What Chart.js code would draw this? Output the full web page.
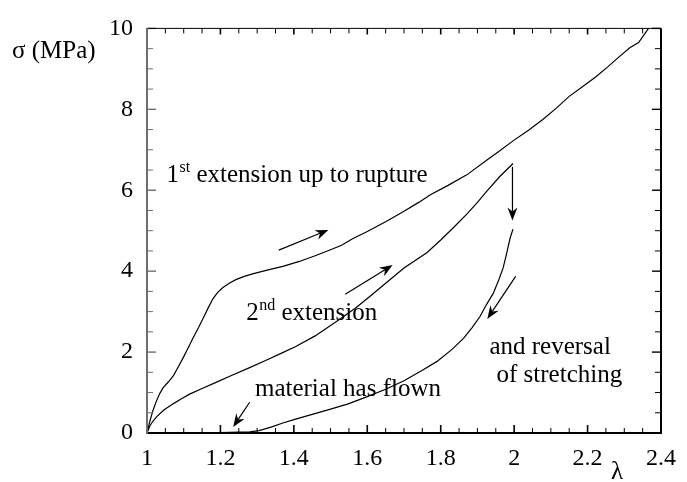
<!DOCTYPE html>
<html><head><meta charset="utf-8">
<script src="https://cdn.jsdelivr.net/npm/chart.js@4.4.0/dist/chart.umd.min.js"></script>
<style>html,body{margin:0;padding:0;background:#fff;}canvas{display:block;}</style>
</head><body>
<canvas id="c" width="687" height="482"></canvas>
<script>
// ---- axis ticks ----
const xTickValues = [1, 1.2, 1.4, 1.6, 1.8, 2, 2.2, 2.4];
const xTickLabels = ["1", "1.2", "1.4", "1.6", "1.8", "2", "2.2", "2.4"];
const yTickValues = [0, 2, 4, 6, 8, 10];
const yTickLabels = ["0", "2", "4", "6", "8", "10"];
const xMinorStep = 0.05;
const yMinorStep = 0.5;

// ---- series: 1st extension up to rupture ----
const firstLambda = [1.000,1.008,1.016,1.026,1.035,1.044,1.058,1.072,1.085,1.098,1.112,1.125,1.140,1.152,1.166,1.179,1.192,1.206,1.224,1.242,1.265,1.290,1.330,1.370,1.415,1.458,1.500,1.530,1.560,1.600,1.650,1.700,1.740,1.772,1.820,1.871,1.925,1.960,1.997,2.040,2.078,2.115,2.150,2.185,2.222,2.255,2.285,2.315,2.339,2.366];
const firstSigma  = [0.00,0.30,0.55,0.80,0.98,1.12,1.26,1.42,1.63,1.85,2.10,2.34,2.60,2.82,3.08,3.31,3.47,3.59,3.70,3.79,3.87,3.94,4.03,4.12,4.24,4.38,4.53,4.64,4.80,4.98,5.22,5.48,5.70,5.89,6.12,6.38,6.74,6.97,7.22,7.49,7.75,8.03,8.32,8.55,8.80,9.05,9.29,9.52,9.65,10.00];

// ---- series: 2nd extension ----
const secondLambda = [1.000,1.008,1.016,1.026,1.045,1.071,1.095,1.116,1.150,1.188,1.230,1.278,1.320,1.368,1.404,1.458,1.520,1.570,1.610,1.650,1.700,1.763,1.800,1.835,1.871,1.900,1.925,1.961,1.997];
const secondSigma  = [0.00,0.18,0.29,0.40,0.56,0.72,0.85,0.96,1.10,1.25,1.42,1.61,1.78,1.98,2.13,2.40,2.78,3.10,3.40,3.70,4.08,4.46,4.77,5.08,5.41,5.70,5.97,6.34,6.66];

// ---- series: reversal of stretching ----
const reverseLambda = [1.170,1.200,1.250,1.280,1.305,1.340,1.368,1.400,1.450,1.500,1.548,1.600,1.650,1.700,1.750,1.790,1.830,1.862,1.885,1.907,1.925,1.943,1.958,1.970,1.978,1.984,1.990,1.997];
const reverseSigma  = [0.00,0.01,0.02,0.03,0.06,0.15,0.24,0.33,0.46,0.59,0.72,0.90,1.08,1.29,1.55,1.77,2.06,2.34,2.60,2.88,3.18,3.45,3.78,4.08,4.38,4.62,4.85,5.04];

// ---- annotations (data coordinates) ----
const arrowTails = [[1.359,4.52],[1.540,3.43],[1.9954,6.58],[2.004,3.87],[1.2797,0.76]];
const arrowTips  = [[1.494,5.02],[1.669,4.15],[1.9954,5.25],[1.927,2.82],[1.2347,0.15]];
const noteTexts  = [
  {main:"1", sup:"st", rest:" extension up to rupture", x:1.053, y:6.20},
  {main:"2", sup:"nd", rest:" extension", x:1.270, y:2.79},
  {main:"material has flown", sup:"", rest:"", x:1.294, y:0.92},
  {main:"and reversal", sup:"", rest:"", x:1.9326, y:1.95},
  {main:"of stretching", sup:"", rest:"", x:1.952, y:1.27}
];
const yAxisTitle = "σ (MPa)";
const xAxisTitle = "λ";

const FONT = '"Liberation Serif", "Times New Roman", serif';
function toPts(xs, ys){ return xs.map((x,i)=>({x:x, y:ys[i]})); }

const lineStyle = {borderColor:'#000', borderWidth:1.2, pointRadius:0, fill:false, tension:0};

const decor = {
  id:'decor',
  afterDraw(chart){
    const ctx = chart.ctx, xs = chart.scales.x, ys = chart.scales.y, a = chart.chartArea;
    ctx.save();
    // inward ticks
    const nX = Math.round((xs.max - xs.min)/xMinorStep);
    for(let i=0;i<=nX;i++){
      const v = xs.min + i*xMinorStep;
      const px = xs.getPixelForValue(v);
      const major = (i % 4 === 0);
      const len = major ? 8 : 5;
      ctx.strokeStyle = '#000';
      ctx.lineWidth = major ? 1.6 : 1;
      ctx.beginPath();
      ctx.moveTo(px, a.bottom); ctx.lineTo(px, a.bottom - len);
      ctx.moveTo(px, a.top); ctx.lineTo(px, a.top + (major?6:5));
      ctx.stroke();
    }
    const nY = Math.round((ys.max - ys.min)/yMinorStep);
    for(let i=0;i<=nY;i++){
      const v = ys.min + i*yMinorStep;
      const py = ys.getPixelForValue(v);
      const major = (i % 4 === 0);
      const len = major ? 9 : 6;
      ctx.lineWidth = major ? 1.4 : 1;
      ctx.strokeStyle = '#6e6e6e';
      ctx.beginPath(); ctx.moveTo(a.left, py); ctx.lineTo(a.left + len, py); ctx.stroke();
      ctx.strokeStyle = '#000';
      ctx.beginPath(); ctx.moveTo(a.right, py); ctx.lineTo(a.right - len, py); ctx.stroke();
    }
    // frame
    ctx.strokeStyle = '#000';
    ctx.lineWidth = 1;
    ctx.beginPath(); ctx.moveTo(a.left, a.top); ctx.lineTo(a.right, a.top); ctx.stroke();
    ctx.lineWidth = 2;
    ctx.beginPath(); ctx.moveTo(a.right, a.top); ctx.lineTo(a.right, a.bottom); ctx.stroke();
    ctx.beginPath(); ctx.moveTo(a.left, a.bottom); ctx.lineTo(a.right+1, a.bottom); ctx.stroke();
    ctx.strokeStyle = '#6e6e6e';
    ctx.beginPath(); ctx.moveTo(a.left, a.top-0.5); ctx.lineTo(a.left, a.bottom+1); ctx.stroke();

    // arrows
    ctx.strokeStyle = '#000'; ctx.fillStyle = '#000'; ctx.lineWidth = 1.2;
    arrowTails.forEach((t,i)=>{
      const x0 = xs.getPixelForValue(t[0]), y0 = ys.getPixelForValue(t[1]);
      const x1 = xs.getPixelForValue(arrowTips[i][0]), y1 = ys.getPixelForValue(arrowTips[i][1]);
      const ang = Math.atan2(y1-y0, x1-x0);
      const L = 13, W = 5, notch = 9;
      const bx = x1 - L*Math.cos(ang), by = y1 - L*Math.sin(ang);
      const nx = x1 - notch*Math.cos(ang), ny = y1 - notch*Math.sin(ang);
      ctx.beginPath(); ctx.moveTo(x0,y0); ctx.lineTo(nx,ny); ctx.stroke();
      ctx.beginPath();
      ctx.moveTo(x1,y1);
      ctx.lineTo(bx - W*Math.sin(ang), by + W*Math.cos(ang));
      ctx.lineTo(nx, ny);
      ctx.lineTo(bx + W*Math.sin(ang), by - W*Math.cos(ang));
      ctx.closePath(); ctx.fill();
    });

    // notes
    ctx.fillStyle = '#000';
    ctx.textBaseline = 'alphabetic'; ctx.textAlign = 'left';
    noteTexts.forEach(n=>{
      let px = xs.getPixelForValue(n.x), py = ys.getPixelForValue(n.y);
      ctx.font = '25px ' + FONT;
      ctx.fillText(n.main, px, py);
      px += ctx.measureText(n.main).width;
      if(n.sup){
        ctx.font = '16px ' + FONT;
        ctx.fillText(n.sup, px + 0.5, py - 10);
        px += ctx.measureText(n.sup).width + 0.5;
      }
      if(n.rest){
        ctx.font = '25px ' + FONT;
        ctx.fillText(n.rest, px, py);
      }
    });
    // axis titles
    ctx.font = '25px ' + FONT;
    ctx.fillText(yAxisTitle, 12, 58);
    ctx.textAlign = 'center';
    ctx.fillText(xAxisTitle, xs.getPixelForValue(2.28), 479);
    ctx.restore();
  }
};

new Chart(document.getElementById('c'), {
  type:'line',
  data:{
    datasets:[
      Object.assign({label:'1st extension', data:toPts(firstLambda, firstSigma)}, lineStyle),
      Object.assign({label:'2nd extension', data:toPts(secondLambda, secondSigma)}, lineStyle),
      Object.assign({label:'reversal', data:toPts(reverseLambda, reverseSigma)}, lineStyle)
    ]
  },
  options:{
    responsive:false, animation:false, devicePixelRatio:1,
    layout:{padding:{top:21, right:21, left:0, bottom:0}},
    plugins:{legend:{display:false}, tooltip:{enabled:false}},
    scales:{
      x:{
        type:'linear', min:1, max:2.4,
        afterBuildTicks:s=>{ s.ticks = xTickValues.map(v=>({value:v})); },
        afterFit:s=>{ s.height = 49; },
        grid:{display:false, drawTicks:false},
        border:{display:false},
        ticks:{padding:11, color:'#000', font:{family:FONT, size:24}, maxRotation:0, autoSkip:false,
          callback:(v,i)=>xTickLabels[i]}
      },
      y:{
        type:'linear', min:0, max:10,
        afterBuildTicks:s=>{ s.ticks = yTickValues.map(v=>({value:v})); },
        afterFit:s=>{ s.width = 147; },
        grid:{display:false, drawTicks:false},
        border:{display:false},
        ticks:{padding:14, color:'#000', font:{family:FONT, size:24}, autoSkip:false,
          callback:(v,i)=>yTickLabels[i]}
      }
    }
  },
  plugins:[decor]
});
</script>
</body></html>
